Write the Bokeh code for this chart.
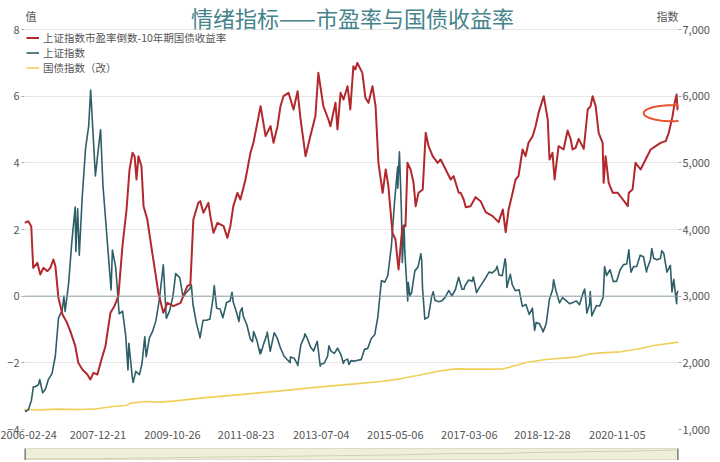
import numpy as np
import pandas as pd
from bokeh.plotting import figure
from bokeh.models import (Range1d, LinearAxis, FixedTicker, NumeralTickFormatter,
                          DatetimeTickFormatter, Legend, LegendItem, Span,
                          PolyAnnotation, ColumnDataSource)
from bokeh.core.properties import value
from bokeh.layouts import column
from bokeh.embed import file_html
from bokeh.resources import INLINE

# ---------------- data ----------------
TITLE = "情绪指标——市盈率与国债收益率"
LEFT_NAME = "值"
RIGHT_NAME = "指数"
SERIES_NAMES = ["上证指数市盈率倒数-10年期国债收益率", "上证指数", "国债指数（改）"]

x_tick_labels = ["2006-02-24", "2007-12-21", "2009-10-26", "2011-08-23", "2013-07-04",
                 "2015-05-06", "2017-03-06", "2018-12-28", "2020-11-05"]
left_ticks = [-4, -2, 0, 2, 4, 6, 8]
right_ticks = [1000, 2000, 3000, 4000, 5000, 6000, 7000]

spread_dates = [
    "2006-02-24", "2006-03-30", "2006-04-26", "2006-05-14", "2006-06-20", "2006-07-17",
    "2006-08-14", "2006-09-19", "2006-10-16", "2006-11-13", "2006-12-01", "2006-12-28",
    "2007-02-03", "2007-03-09", "2007-04-15", "2007-05-30", "2007-06-26", "2007-08-02",
    "2007-09-16", "2007-10-13", "2007-11-10", "2007-12-16", "2008-01-22", "2008-02-27",
    "2008-04-12", "2008-05-18", "2008-06-23", "2008-07-30", "2008-09-05", "2008-10-02",
    "2008-10-29", "2008-11-17", "2008-12-04", "2008-12-22", "2009-01-18", "2009-02-06",
    "2009-03-12", "2009-04-26", "2009-05-24", "2009-06-20", "2009-08-04", "2009-09-10",
    "2009-11-04", "2010-01-07", "2010-03-09", "2010-04-06", "2010-05-03", "2010-06-17",
    "2010-07-05", "2010-08-02", "2010-09-16", "2010-10-04", "2010-11-01", "2010-12-07",
    "2011-02-01", "2011-03-07", "2011-04-03", "2011-04-30", "2011-06-06", "2011-07-03",
    "2011-08-18", "2011-10-02", "2011-10-29", "2012-01-02", "2012-02-16", "2012-04-01",
    "2012-04-28", "2012-06-03", "2012-06-30", "2012-07-27", "2012-09-11", "2012-10-26",
    "2012-12-02", "2012-12-29", "2013-02-12", "2013-03-27", "2013-05-12", "2013-06-08",
    "2013-07-23", "2013-09-07", "2013-09-25", "2013-11-10", "2013-11-28", "2013-12-26",
    "2014-01-22", "2014-02-27", "2014-03-24", "2014-04-21", "2014-05-09", "2014-05-27",
    "2014-07-11", "2014-08-08", "2014-09-05", "2014-10-11", "2014-11-08", "2014-12-04",
    "2015-01-11", "2015-02-08", "2015-03-04", "2015-04-10", "2015-05-07", "2015-06-04",
    "2015-07-09", "2015-08-06", "2015-08-24", "2015-09-21", "2015-10-18", "2015-11-06",
    "2015-12-02", "2016-01-09", "2016-02-05", "2016-03-02", "2016-04-08", "2016-05-23",
    "2016-06-19", "2016-08-04", "2016-09-18", "2016-10-15", "2016-11-30", "2016-12-18",
    "2017-01-14", "2017-02-02", "2017-03-17", "2017-05-01", "2017-06-16", "2017-08-01",
    "2017-10-03", "2017-11-26", "2018-01-03", "2018-01-29", "2018-02-25", "2018-04-02",
    "2018-04-29", "2018-05-25", "2018-07-01", "2018-07-28", "2018-08-24", "2018-09-30",
    "2018-10-27", "2018-11-23", "2019-01-09", "2019-02-14", "2019-03-02", "2019-03-29",
    "2019-04-17", "2019-05-23", "2019-07-07", "2019-08-13", "2019-09-09", "2019-09-27",
    "2019-10-06", "2019-10-24", "2019-11-21", "2020-01-06", "2020-02-11", "2020-03-08",
    "2020-03-26", "2020-04-23", "2020-05-20", "2020-06-25", "2020-07-04", "2020-07-22",
    "2020-08-19", "2020-09-25", "2020-11-09", "2020-12-25", "2021-02-08", "2021-02-17",
    "2021-03-23", "2021-04-19", "2021-06-04", "2021-07-19", "2021-09-03", "2021-10-18",
    "2021-12-02", "2022-01-17", "2022-02-14", "2022-03-20", "2022-04-08", "2022-04-26",
    "2022-05-04", "2022-05-13",
]
spread_values = [
    2.2, 2.25, 2.1, 0.85, 1.0, 0.65,
    0.85, 0.75, 0.85, 1.1, 0.9, -0.05,
    -0.55, -0.75, -1.05, -1.5, -2.0, -2.2,
    -2.35, -2.5, -2.3, -2.35, -1.9, -1.5,
    -0.5, -0.3, 0.0, 1.5, 2.6, 3.8,
    4.3, 4.2, 3.5, 4.2, 3.9, 2.7,
    2.3, 1.3, 0.7, 0.1, -0.5, -0.2,
    -0.3, -0.2, 0.3, 0.35, 2.3, 2.8,
    2.85, 2.5, 2.8, 2.4, 1.9, 2.2,
    2.1, 1.75, 2.1, 2.7, 3.1, 2.9,
    3.5, 4.3, 4.6, 5.7, 4.8, 5.1,
    4.6, 5.1, 5.7, 6.0, 6.1, 5.6,
    6.15, 5.3, 4.2, 4.8, 5.4, 6.7,
    5.7, 5.3, 5.1, 5.8, 5.0, 6.1,
    5.9, 6.3, 5.6, 6.9, 6.8, 7.0,
    6.7, 5.95, 5.8, 6.3, 5.7, 4.0,
    3.1, 3.8, 3.3, 1.9, 1.7, 0.8,
    2.1, 2.1, 4.0, 3.8, 3.4, 2.7,
    3.1, 3.2, 4.9, 4.5, 4.2, 4.0,
    4.1, 3.8, 3.5, 3.6, 3.1, 3.1,
    2.9, 2.67, 2.7, 2.97, 2.85, 2.52,
    2.4, 2.22, 2.6, 1.92, 2.6, 3.1,
    3.5, 3.6, 4.4, 4.2, 4.6, 4.8,
    5.1, 5.5, 6.0, 5.3, 4.1, 4.3,
    3.5, 4.5, 4.4, 4.97, 4.72, 4.4,
    4.42, 4.45, 4.72, 4.42, 5.6, 5.7,
    6.0, 5.7, 4.9, 4.6, 3.4, 4.2,
    3.4, 3.1, 3.1, 2.9, 2.7, 3.1,
    3.2, 4.0, 3.8, 4.1, 4.4, 4.5,
    4.6, 4.65, 4.9, 5.4, 5.8, 6.05,
    5.6, 5.7,
]

sse_dates = [
    "2006-02-24", "2006-03-10", "2006-03-31", "2006-04-28", "2006-05-15", "2006-05-31",
    "2006-06-30", "2006-07-12", "2006-08-07", "2006-08-31", "2006-09-29", "2006-10-31",
    "2006-11-30", "2006-12-29", "2007-01-31", "2007-02-16", "2007-02-27", "2007-03-30",
    "2007-04-30", "2007-05-29", "2007-06-04", "2007-06-20", "2007-07-05", "2007-07-31",
    "2007-08-31", "2007-09-28", "2007-10-16", "2007-11-28", "2007-12-28", "2008-01-14",
    "2008-02-04", "2008-03-31", "2008-04-18", "2008-04-30", "2008-05-30", "2008-06-30",
    "2008-07-31", "2008-08-29", "2008-09-18", "2008-09-26", "2008-10-28", "2008-11-04",
    "2008-11-28", "2008-12-31", "2009-01-23", "2009-02-17", "2009-03-02", "2009-03-31",
    "2009-04-30", "2009-05-29", "2009-06-30", "2009-07-31", "2009-08-04", "2009-08-31",
    "2009-09-30", "2009-10-30", "2009-11-24", "2009-12-31", "2010-01-29", "2010-02-26",
    "2010-03-31", "2010-04-15", "2010-04-30", "2010-05-31", "2010-06-30", "2010-07-02",
    "2010-07-30", "2010-08-31", "2010-09-30", "2010-10-29", "2010-11-08", "2010-11-30",
    "2010-12-31", "2011-01-25", "2011-02-28", "2011-03-31", "2011-04-18", "2011-04-29",
    "2011-05-31", "2011-06-20", "2011-06-30", "2011-07-18", "2011-07-29", "2011-08-31",
    "2011-09-30", "2011-10-21", "2011-10-31", "2011-11-30", "2011-12-28", "2011-12-30",
    "2012-01-05", "2012-01-31", "2012-02-29", "2012-03-02", "2012-03-29", "2012-04-27",
    "2012-05-04", "2012-05-31", "2012-06-29", "2012-07-31", "2012-08-31", "2012-09-26",
    "2012-09-28", "2012-10-31", "2012-11-30", "2012-12-03", "2012-12-31", "2013-01-31",
    "2013-02-06", "2013-02-28", "2013-03-29", "2013-04-26", "2013-05-29", "2013-06-25",
    "2013-06-28", "2013-07-31", "2013-08-30", "2013-09-12", "2013-09-30", "2013-10-31",
    "2013-11-29", "2013-12-31", "2014-01-20", "2014-01-30", "2014-02-28", "2014-03-12",
    "2014-03-31", "2014-04-30", "2014-05-30", "2014-06-30", "2014-07-31", "2014-08-29",
    "2014-09-30", "2014-10-31", "2014-11-28", "2014-12-31", "2015-01-30", "2015-02-27",
    "2015-03-31", "2015-04-30", "2015-05-27", "2015-05-28", "2015-06-12", "2015-06-30",
    "2015-07-08", "2015-07-24", "2015-07-31", "2015-08-26", "2015-08-31", "2015-09-15",
    "2015-09-30", "2015-10-30", "2015-11-27", "2015-12-23", "2015-12-31", "2016-01-07",
    "2016-01-28", "2016-02-29", "2016-03-31", "2016-04-13", "2016-04-29", "2016-05-31",
    "2016-06-30", "2016-07-29", "2016-08-31", "2016-09-30", "2016-10-31", "2016-11-29",
    "2016-12-30", "2017-01-16", "2017-01-26", "2017-02-28", "2017-03-31", "2017-04-11",
    "2017-04-28", "2017-05-10", "2017-05-31", "2017-06-30", "2017-07-31", "2017-08-31",
    "2017-09-29", "2017-10-31", "2017-11-13", "2017-11-30", "2017-12-29", "2018-01-24",
    "2018-01-31", "2018-02-09", "2018-02-28", "2018-03-12", "2018-03-30", "2018-04-27",
    "2018-05-31", "2018-06-29", "2018-07-31", "2018-08-31", "2018-09-28", "2018-10-18",
    "2018-10-31", "2018-11-30", "2018-12-28", "2019-01-03", "2019-01-31", "2019-02-28",
    "2019-03-29", "2019-04-08", "2019-04-30", "2019-05-31", "2019-06-28", "2019-07-31",
    "2019-08-30", "2019-09-30", "2019-10-31", "2019-11-29", "2019-12-31", "2020-01-14",
    "2020-01-23", "2020-02-03", "2020-02-28", "2020-03-05", "2020-03-19", "2020-03-31",
    "2020-04-30", "2020-05-29", "2020-06-30", "2020-07-13", "2020-07-31", "2020-08-31",
    "2020-09-30", "2020-10-30", "2020-11-30", "2020-12-31", "2021-01-29", "2021-02-18",
    "2021-02-26", "2021-03-09", "2021-03-31", "2021-04-30", "2021-05-31", "2021-06-30",
    "2021-07-28", "2021-07-30", "2021-08-31", "2021-09-13", "2021-09-30", "2021-10-29",
    "2021-11-30", "2021-12-13", "2021-12-31", "2022-01-28", "2022-02-28", "2022-03-15",
    "2022-03-31", "2022-04-26", "2022-04-29", "2022-05-13",
]
sse_values = [
    1290, 1270, 1298, 1440, 1640, 1641,
    1672, 1750, 1550, 1601, 1752, 1837,
    2099, 2675, 2786, 2998, 2772, 3183,
    3841, 4335, 3670, 4311, 3615, 4471,
    5218, 5552, 6092, 4803, 5262, 5497,
    4672, 3473, 3094, 3693, 3433, 2736,
    2775, 2397, 1895, 2293, 1771, 1706,
    1871, 1821, 1990, 2390, 2093, 2373,
    2477, 2633, 2959, 3412, 3471, 2668,
    2779, 2996, 3338, 3277, 2989, 3051,
    3110, 3166, 2871, 2592, 2398, 2373,
    2638, 2639, 2656, 2979, 3159, 2820,
    2808, 2677, 2905, 2928, 3057, 2911,
    2743, 2621, 2762, 2826, 2701, 2567,
    2359, 2317, 2468, 2333, 2134, 2199,
    2148, 2292, 2428, 2460, 2174, 2397,
    2452, 2373, 2226, 2103, 2047, 2004,
    2086, 2069, 1980, 1959, 2269, 2385,
    2434, 2366, 2237, 2177, 2324, 1951,
    1979, 1994, 2098, 2255, 2175, 2141,
    2220, 2116, 1992, 2033, 2056, 1975,
    2033, 2026, 2039, 2048, 2202, 2217,
    2364, 2420, 2683, 3235, 3210, 3310,
    3748, 4442, 4941, 4620, 5166, 4277,
    3507, 4070, 3664, 2927, 3206, 3005,
    3053, 3383, 3436, 3636, 3539, 3125,
    2656, 2688, 3004, 3066, 2938, 2917,
    2930, 2979, 3085, 3005, 3100, 3283,
    3104, 3103, 3159, 3242, 3223, 3289,
    3155, 3052, 3117, 3192, 3273, 3361,
    3349, 3393, 3447, 3317, 3307, 3559,
    3481, 3129, 3259, 3327, 3169, 3082,
    3095, 2847, 2876, 2725, 2821, 2486,
    2603, 2588, 2494, 2464, 2585, 2941,
    3091, 3247, 3078, 2899, 2979, 2933,
    2886, 2905, 2929, 2872, 3050, 3106,
    2976, 2746, 2880, 3071, 2702, 2750,
    2860, 2852, 2985, 3443, 3310, 3396,
    3218, 3225, 3392, 3473, 3483, 3696,
    3509, 3360, 3442, 3447, 3615, 3591,
    3362, 3397, 3544, 3715, 3568, 3547,
    3564, 3681, 3640, 3361, 3462, 3064,
    3252, 2886, 3047, 3084,
]

bond_dates = [
    "2006-02-24", "2006-07-17", "2006-12-28", "2007-07-14", "2007-12-16", "2008-04-30",
    "2008-09-05", "2008-10-11", "2009-02-24", "2009-07-08", "2009-11-22", "2010-07-05",
    "2011-08-18", "2012-06-30", "2013-06-26", "2014-05-09", "2014-12-22", "2015-06-22",
    "2015-11-23", "2016-06-19", "2016-11-03", "2017-03-17", "2017-09-15", "2018-01-11",
    "2018-08-16", "2019-01-27", "2019-10-24", "2020-03-08", "2020-06-07", "2020-12-06",
    "2021-06-04", "2021-09-30", "2022-05-13",
]
bond_values = [
    1300, 1295, 1305, 1300, 1310, 1345,
    1360, 1395, 1420, 1410, 1430, 1470,
    1530, 1580, 1640, 1685, 1720, 1760,
    1810, 1880, 1910, 1905, 1905, 1910,
    2010, 2050, 2085, 2135, 2150, 2165,
    2215, 2260, 2310,
]

# highlight ellipse (hand-drawn marker in the original)
highlight_date = "2022-03-17"
highlight_value = 5.49

# ---------------- styling ----------------
FONT = "Noto Sans CJK SC"
RED = "#B3282D"
BLUE = "#2E5E68"
YELLOW = "#F0D05A"
TEXT = "#555555"
W = 720

spread_src = ColumnDataSource(dict(x=pd.to_datetime(spread_dates), y=spread_values))
sse_src = ColumnDataSource(dict(x=pd.to_datetime(sse_dates), y=sse_values))
bond_src = ColumnDataSource(dict(x=pd.to_datetime(bond_dates), y=bond_values))

x_start = pd.Timestamp(spread_dates[0])
x_end = pd.Timestamp(spread_dates[-1])

BL, BR, HEAD, BB = 24, 42, 29, 19     # borders; HEAD = header band kept inside the frame
FW, FH = 654, 400                      # width / height of the data area (ticks -4..8)
px_y = (left_ticks[-1] - left_ticks[0]) / FH          # left units per pixel
px_r = (right_ticks[-1] - right_ticks[0]) / FH        # right units per pixel
ms_per_px = (x_end - x_start).value / 1e6 / FW

p = figure(x_axis_type="datetime", width=W, height=HEAD + FH + BB,
           min_border_left=BL, min_border_right=BR, min_border_top=0, min_border_bottom=BB,
           x_range=Range1d(x_start, x_end),
           y_range=Range1d(left_ticks[0], left_ticks[-1] + HEAD * px_y),
           output_backend="svg", toolbar_location=None)
p.outline_line_color = None
p.border_fill_color = "white"
p.extra_y_ranges = {"right": Range1d(right_ticks[0], right_ticks[-1] + HEAD * px_r)}

p.yaxis.ticker = FixedTicker(ticks=left_ticks)
raxis = LinearAxis(y_range_name="right", ticker=FixedTicker(ticks=right_ticks),
                   formatter=NumeralTickFormatter(format="0,0"))
p.add_layout(raxis, "right")

for ax in [p.yaxis[0], raxis]:
    ax.axis_line_color = None
    ax.major_tick_out = 3
    ax.major_tick_in = 0
    ax.minor_tick_line_color = None
    ax.major_tick_line_color = "#AAAAAA"
    ax.major_label_text_font = FONT
    ax.major_label_text_font_size = "11px"
    ax.major_label_text_color = TEXT
    ax.major_label_standoff = 2
raxis.major_label_standoff = 1

xt = [pd.Timestamp(d).value / 1e6 for d in x_tick_labels]
p.xaxis.ticker = FixedTicker(ticks=xt)
fmt = "%Y-%m-%d"
p.xaxis.formatter = DatetimeTickFormatter(years=fmt, months=fmt, days=fmt, hours=fmt,
                                          hourmin=fmt, minutes=fmt, minsec=fmt,
                                          seconds=fmt, milliseconds=fmt, microseconds=fmt)
p.xaxis.axis_line_color = None
p.xaxis.major_tick_line_color = None
p.xaxis.major_tick_out = 0
p.xaxis.major_tick_in = 0
p.xaxis.minor_tick_line_color = None
p.xaxis.minor_tick_out = 0
p.xaxis.major_label_text_font = FONT
p.xaxis.major_label_text_font_size = "11px"
p.xaxis.major_label_text_color = TEXT
p.xaxis.major_label_standoff = 1

p.xgrid.visible = False
p.ygrid.ticker = FixedTicker(ticks=left_ticks)
p.ygrid.grid_line_color = "#E6E6E6"

# zero axis line
p.add_layout(Span(location=0, dimension="width", line_color="#8DA3A7", line_width=1))

# series
r_bond = p.line("x", "y", source=bond_src, y_range_name="right", color=YELLOW, line_width=1.6)
r_sse = p.line("x", "y", source=sse_src, y_range_name="right", color=BLUE, line_width=1.6,
               line_join="round")
r_spread = p.line("x", "y", source=spread_src, color=RED, line_width=2, line_join="round")

# legend marker glyphs (hollow circles shown only in legend)
dots = []
for c in [RED, BLUE, YELLOW]:
    d = p.scatter(x=[], y=[], marker="circle", size=7, fill_color="white",
                  line_color=c, line_width=1.2)
    dots.append(d)

legend = Legend(items=[
    LegendItem(label=SERIES_NAMES[0], renderers=[r_spread, dots[0]]),
    LegendItem(label=SERIES_NAMES[1], renderers=[r_sse, dots[1]]),
    LegendItem(label=SERIES_NAMES[2], renderers=[r_bond, dots[2]]),
], location=(2, FH - 46))
legend.label_text_font = FONT
legend.label_text_font_size = "10.5px"
legend.label_text_color = TEXT
legend.glyph_width = 13
legend.glyph_height = 13
legend.label_height = 12
legend.label_standoff = 4
legend.spacing = 0
legend.padding = 0
legend.margin = 0
legend.border_line_color = None
legend.background_fill_alpha = 0
p.add_layout(legend)

# title and axis names inside the header band of the frame
top_val = left_ticks[-1]
p.text(x=[x_start + pd.Timedelta(milliseconds=(352 - BL) * ms_per_px)],
       y=[top_val + (HEAD - 16) * px_y], text=[TITLE],
       text_font=value(FONT), text_font_size="22px", text_color="#45838A",
       text_align="center", text_baseline="middle")
p.text(x=[x_start + pd.Timedelta(milliseconds=1 * ms_per_px)], y=[top_val + (HEAD - 15) * px_y],
       text=[LEFT_NAME], text_font=value(FONT), text_font_size="11px", text_color=TEXT,
       text_align="left", text_baseline="middle")
p.text(x=[x_end], y=[top_val + (HEAD - 15) * px_y],
       text=[RIGHT_NAME], text_font=value(FONT), text_font_size="11px", text_color=TEXT,
       text_align="right", text_baseline="middle")

# ellipse highlight
t = np.linspace(0, 2 * np.pi, 73)
cx = pd.Timestamp(highlight_date).value / 1e6
ex = list(cx + 28.5 * ms_per_px * np.cos(t))
ey = list(highlight_value + 8.0 * px_y * np.sin(t))
p.add_layout(PolyAnnotation(xs=ex, ys=ey, fill_alpha=0, line_color="#E8532B",
                            line_alpha=1.0, line_width=2))

# ---------------- data-zoom slider look ----------------
s = figure(x_axis_type="datetime", width=W, height=12,
           min_border_left=BL, min_border_right=BR, min_border_top=0, min_border_bottom=0,
           x_range=p.x_range,
           y_range=Range1d(min(bond_values) * 0.85, max(bond_values) * 1.08),
           x_axis_location=None, y_axis_location=None,
           output_backend="svg", toolbar_location=None)
s.grid.visible = False
s.outline_line_color = "#DEDCC6"
s.background_fill_color = "#F1EFDA"
s.border_fill_color = "white"
s.line("x", "y", source=bond_src, color="#D3D0B2", line_width=1)
s.add_layout(Span(location=x_start.value / 1e6, dimension="height", line_color="#7F8C90", line_width=3))
s.add_layout(Span(location=x_end.value / 1e6, dimension="height", line_color="#7F8C90", line_width=3))

layout = column(p, s, spacing=0)
open("out.html", "w").write(file_html(layout, INLINE))
